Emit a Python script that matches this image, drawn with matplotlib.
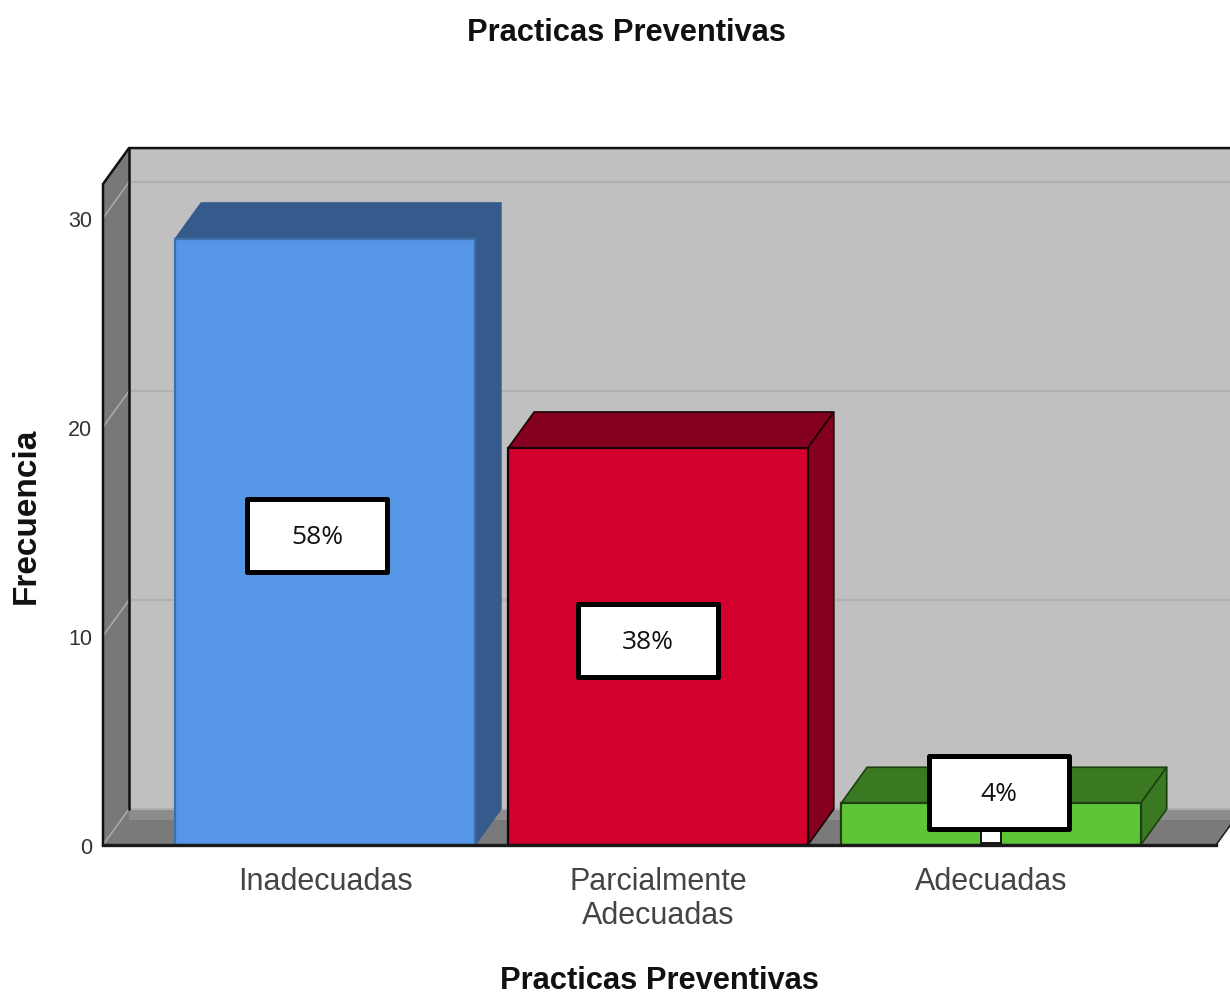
import matplotlib
matplotlib.use('Agg')
import matplotlib.pyplot as plt
from matplotlib.patches import Polygon, Rectangle

plt.rcParams['font.family'] = ['Liberation Sans', 'DejaVu Sans']

categorias = ['Inadecuadas', 'Parcialmente\nAdecuadas', 'Adecuadas']
frecuencia = [29, 19, 2]
etiquetas = ['58%', '38%', '4%']
# centre of each white label box, in data units
etiqueta_x = [-0.024, 0.97, 2.024]
etiqueta_y = [14.8, 9.8, 2.5]
yticks = [0, 10, 20, 30]

frente = ['#5596e6', '#d3002d', '#5ec636']
oscuro = ['#345b8c', '#85001f', '#3a7822']
borde = ['#3f6fa8', '#1a0008', '#1c4010']
borde_osc = ['#345b8c', '#1a0008', '#1c4010']

# 3d offset of the chart
dx = 0.078
dy = 1.72
ancho = 0.9
ymax = 31.63

fig = plt.figure(figsize=(12.3, 9.95), dpi=100)
ax = fig.add_axes([103 / 1230, 149 / 995, 1113 / 1230, 661 / 995])
ax.set_xlim(-0.667, 2.676)
ax.set_ylim(0, ymax)
for s in ax.spines.values():
    s.set_visible(False)


def poly(puntos, color, ec='none', lw=0, z=1):
    ax.add_patch(Polygon(puntos, closed=True, fc=color, ec=ec, lw=lw, zorder=z,
                         clip_on=False, joinstyle='round'))


x0, x1 = ax.get_xlim()
# back wall, floor and left wall
poly([(x0 + dx, dy), (x1 + 1, dy), (x1 + 1, ymax + dy), (x0 + dx, ymax + dy)], '#c0c0c0')
poly([(x0, 0), (x1, 0), (x1 + 1 * dx, dy), (x1 + 1, dy), (x0 + dx, dy)], '#7a7a7a', z=1.2)
poly([(x1, 0), (x1 + dx, dy), (x1 + 1, dy), (x1 + 1, 0)], 'white', z=1.1)
ax.fill_between([x0 + dx, x1 + 1], dy - 0.5, dy, color='#8c8c8c', lw=0, zorder=1.3, clip_on=False)
poly([(x0, 0), (x0 + dx, dy), (x0 + dx, ymax + dy), (x0, ymax)], '#787878', z=1.4)

for t in yticks:
    ax.plot([x0, x0 + dx], [t, t + dy], color='#a8a8a8', lw=1.2, zorder=1.5, clip_on=False)
    ax.plot([x0 + dx, x1 + 1], [t + dy, t + dy], color='#b0b0b0', lw=1.6, zorder=1.5, clip_on=False)

ax.plot([x0 + dx, x0 + dx], [dy, ymax + dy], color='#111111', lw=1.8, zorder=1.6, clip_on=False)
ax.plot([x0, x0, x0 + dx, x1 + 1], [0, ymax, ymax + dy, ymax + dy], color='#111111', lw=1.8,
        zorder=1.6, clip_on=False)
ax.plot([x1, x1 + dx], [0, dy], color='#222222', lw=1.2, zorder=1.6, clip_on=False)

# bars
for i, v in enumerate(frecuencia):
    iz = i - ancho / 2
    de = i + ancho / 2
    ax.bar(i, v, width=ancho, color=frente[i], edgecolor=borde[i], linewidth=1.6, zorder=3)
    poly([(iz, v), (de, v), (de + dx, v + dy), (iz + dx, v + dy)], oscuro[i], borde_osc[i], 1.2, 2.5)
    poly([(de, 0), (de + dx, dy), (de + dx, v + dy), (de, v)], oscuro[i], borde_osc[i], 1.2, 2.5)

ax.plot([x0, x1], [0, 0], color='#1a1a1a', lw=2.4, zorder=4, clip_on=False)

# leader stub under the 4% box
ax.add_patch(Rectangle((2 - 0.03, 0.1), 0.06, 0.8, fc='white', ec='#111111', lw=1.4, zorder=4.5))

# white percentage boxes
caja_w = 0.42
caja_h = 3.5
for ex, ey, txt in zip(etiqueta_x, etiqueta_y, etiquetas):
    ax.add_patch(Rectangle((ex - caja_w / 2, ey - caja_h / 2), caja_w, caja_h, fc='white',
                           ec='black', lw=3.6, zorder=5, joinstyle='round'))
    ax.text(ex, ey - 0.05, txt, ha='center', va='center', fontsize=19, color='#111111',
            family=['Open Sans', 'DejaVu Sans'], zorder=6)

ax.set_xticks(range(len(categorias)))
ax.set_xticklabels(categorias, fontsize=22, color='#444444')
ax.set_yticks(yticks)
ax.set_yticklabels([str(t) for t in yticks], fontsize=15.5, color='#333333')
ax.tick_params(axis='x', length=0, pad=15)
ax.tick_params(axis='y', length=0, pad=8)

ax.set_xlabel('Practicas Preventivas', fontsize=22.2, fontweight='bold', color='#111111', labelpad=25)
ax.set_ylabel('Frecuencia', fontsize=24, fontweight='bold', color='#111111', labelpad=19)
fig.text(626 / 1230, 1 - 33 / 995, 'Practicas Preventivas', ha='center', va='center',
         fontsize=22.2, fontweight='bold', color='#111111')

fig.savefig('out.png', dpi=100, facecolor='white')
